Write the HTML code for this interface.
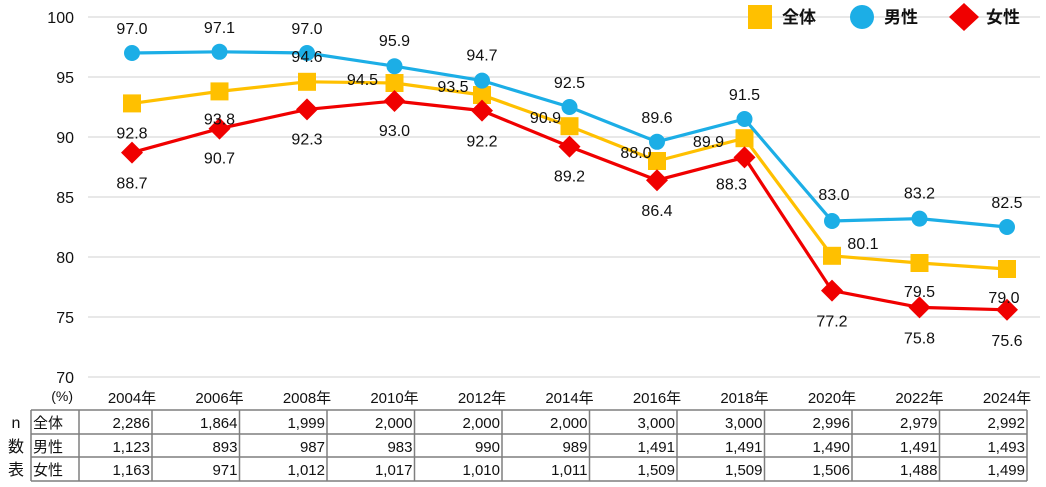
<!DOCTYPE html>
<html><head><meta charset="utf-8">
<style>
html,body{margin:0;padding:0;background:#fff;width:1046px;height:487px;overflow:hidden}
svg{display:block}
text{font-family:"Liberation Sans","Noto Sans CJK JP",sans-serif;fill:#111}
</style></head><body>
<svg id="c" width="1046" height="487" xmlns="http://www.w3.org/2000/svg"></svg>
<script>
const years = ["2004年","2006年","2008年","2010年","2012年","2014年","2016年","2018年","2020年","2022年","2024年"];
const totalVals = [92.8,93.8,94.6,94.5,93.5,90.9,88.0,89.9,80.1,79.5,79.0];
const maleVals = [97.0,97.1,97.0,95.9,94.7,92.5,89.6,91.5,83.0,83.2,82.5];
const femaleVals = [88.7,90.7,92.3,93.0,92.2,89.2,86.4,88.3,77.2,75.8,75.6];
const yTicks = [100,95,90,85,80,75,70];
const nTotal = ["2,286","1,864","1,999","2,000","2,000","2,000","3,000","3,000","2,996","2,979","2,992"];
const nMale = ["1,123","893","987","983","990","989","1,491","1,491","1,490","1,491","1,493"];
const nFemale = ["1,163","971","1,012","1,017","1,010","1,011","1,509","1,509","1,506","1,488","1,499"];

const NS="http://www.w3.org/2000/svg";
const svg=document.getElementById('c');
function el(tag,attrs,parent){const e=document.createElementNS(NS,tag);for(const k in attrs)e.setAttribute(k,attrs[k]);(parent||svg).appendChild(e);return e;}
const x=i=>132+i*87.5;
const y=v=>17+(100-v)*12;

yTicks.forEach(t=>{
  const g=el('line',{x1:88,x2:1040,y1:y(t),y2:y(t),stroke:'#d9d9d9','stroke-width':1.3});
  
  
  const tx=el('text',{x:74,y:y(t)+6,'text-anchor':'end','font-size':16});
  tx.textContent=t;
  
  
});
const unit=el('text',{x:73,y:401,'text-anchor':'end','font-size':14});unit.textContent='(%)';


years.forEach((yr,i)=>{
  const t=el('text',{x:x(i),y:403,'text-anchor':'middle','font-size':15});t.textContent=yr;
  
  
});

const series=[
 {vals:totalVals,color:'#FFC000',shape:'square',name:'total'},
 {vals:maleVals,color:'#1CAEE6',shape:'circle',name:'male'},
 {vals:femaleVals,color:'#F00000',shape:'diamond',name:'female'}
];
function marker(shape,cx,cy,color,parent){
  if(shape==='square')return el('rect',{x:cx-9,y:cy-9,width:18,height:18,fill:color},parent);
  if(shape==='circle')return el('circle',{cx:cx,cy:cy,r:8,fill:color},parent);
  return el('polygon',{points:`${cx},${cy-11} ${cx+11},${cy} ${cx},${cy+11} ${cx-11},${cy}`,fill:color},parent);
}
series.forEach(s=>{
  const g=el('g',{});
  
  
  const p=el('polyline',{points:s.vals.map((v,i)=>x(i)+','+y(v)).join(' '),fill:'none',stroke:s.color,'stroke-width':3.2},g);
  
  
  s.vals.forEach((v,i)=>{
    const m=marker(s.shape,x(i),y(v),s.color,g);
    
    
  });
});

const totalOff=[[0,29],[0,27],[0,-26],[-32,-4],[-29,-9],[-24,-9],[-21,-9],[-36,3],[31,-13],[0,28],[-3,28]];
const maleOff=[[0,-25],[0,-25],[0,-25],[0,-26],[0,-26],[0,-25],[0,-25],[0,-25],[2,-27],[0,-26],[0,-25]];
const femaleOff=[[0,30],[0,29],[0,29],[0,29],[0,30],[0,29],[0,30],[-13,26],[0,30],[0,30],[0,30]];
const offs=[totalOff,maleOff,femaleOff];
series.forEach((s,si)=>{
  s.vals.forEach((v,i)=>{
    const o=offs[si][i];
    const t=el('text',{x:x(i)+o[0],y:y(v)+o[1]+6,'text-anchor':'middle','font-size':16});
    t.textContent=v.toFixed(1);
    
    
  });
});

const leg=[['全体','#FFC000','square',760],['男性','#1CAEE6','circle',862],['女性','#F00000','diamond',964]];
leg.forEach(l=>{
  const g=el('g',{});
  
  
  if(l[2]==='square')el('rect',{x:l[3]-12,y:5,width:24,height:24,fill:l[1]},g);
  else if(l[2]==='circle')el('circle',{cx:l[3],cy:17,r:12,fill:l[1]},g);
  else el('polygon',{points:`${l[3]},3 ${l[3]+15},17 ${l[3]},31 ${l[3]-15},17`,fill:l[1]},g);
  const t=el('text',{x:l[3]+22,y:23,'font-size':17,'font-weight':'bold'},g);t.textContent=l[0];
});

const tb=el('g',{});


const rowsY=[410,434,457,481];
const bounds=[31,79];for(let k=0;k<11;k++)bounds.push(152+k*87.5);
rowsY.forEach(ry=>el('line',{x1:31,x2:bounds[bounds.length-1],y1:ry,y2:ry,stroke:'#7f7f7f','stroke-width':1.5},tb));
bounds.forEach(bx=>el('line',{x1:bx,x2:bx,y1:410,y2:481,stroke:'#7f7f7f','stroke-width':1.5},tb));
['n','数','表'].forEach((c,i)=>{const t=el('text',{x:16,y:rowsY[i]+18,'text-anchor':'middle','font-size':16},tb);t.textContent=c;});
const rowLabels=['全体','男性','女性'];
[nTotal,nMale,nFemale].forEach((row,ri)=>{
  const lt=el('text',{x:33,y:rowsY[ri]+18,'font-size':15},tb);lt.textContent=rowLabels[ri];
  row.forEach((v,ci)=>{
    const t=el('text',{x:bounds[ci+2]-2,y:rowsY[ri]+18,'text-anchor':'end','font-size':15},tb);t.textContent=v;
    
    
  });
});
</script>
</body></html>
